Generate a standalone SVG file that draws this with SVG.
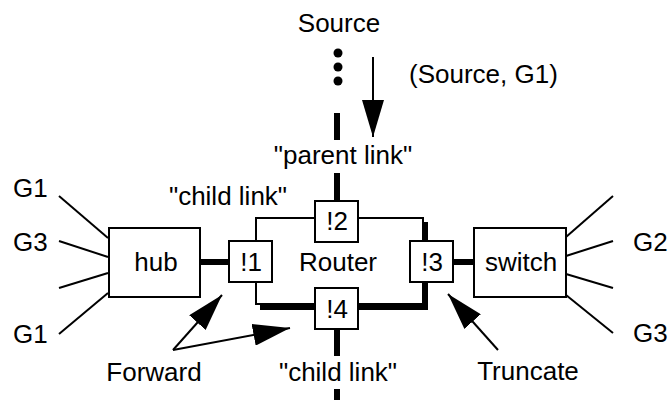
<svg xmlns="http://www.w3.org/2000/svg" width="669" height="400" viewBox="0 0 669 400">
<defs>
<style>
text{font-family:"Liberation Sans",Arial,sans-serif;font-size:26px;fill:#000}
.mid{text-anchor:middle}
.box{fill:#fff;stroke:#000;stroke-width:2}
.thin{stroke:#000;stroke-width:2;fill:none}
.thick{stroke:#000;stroke-width:6;fill:none}
.arr{stroke:#000;stroke-width:2;fill:none}
</style>
<marker id="ahL" viewBox="0 0 37 22" refX="37" refY="11" markerWidth="37" markerHeight="22" markerUnits="userSpaceOnUse" orient="auto">
<path d="M0,0 L37,11 L0,22 Z" fill="#000"/>
</marker>
</defs>
<rect width="669" height="400" fill="#fff"/>
<g id="connectors">
<circle cx="338" cy="53" r="4.5" fill="#000"/>
<circle cx="338" cy="67" r="4.5" fill="#000"/>
<circle cx="338" cy="81" r="4.5" fill="#000"/>
<line class="thick" x1="337" y1="113" x2="337" y2="140"/>
<line class="thick" x1="337" y1="173" x2="337" y2="201"/>
<line class="thick" x1="337" y1="328" x2="337" y2="356"/>
<line class="thick" x1="337" y1="389" x2="337" y2="400"/>
<line class="arr" x1="373" y1="57" x2="373" y2="137" marker-end="url(#ahL)"/>
<rect class="thin" x="256" y="218" width="167" height="86"/>
<polyline class="thick" points="425,222 425,307 260,307"/>
<line class="thick" x1="200" y1="262" x2="229" y2="262"/>
<line class="thick" x1="453" y1="262" x2="474" y2="262"/>
<line class="thin" x1="59" y1="196" x2="108" y2="238"/>
<line class="thin" x1="59" y1="241" x2="108" y2="257"/>
<line class="thin" x1="59" y1="288" x2="108" y2="273"/>
<line class="thin" x1="59" y1="334" x2="108" y2="293"/>
<line class="thin" x1="566" y1="237" x2="613" y2="196"/>
<line class="thin" x1="566" y1="256" x2="613" y2="241"/>
<line class="thin" x1="566" y1="274" x2="613" y2="288"/>
<line class="thin" x1="566" y1="295" x2="613" y2="333"/>
<line class="arr" x1="173" y1="350" x2="222" y2="295" marker-end="url(#ahL)"/>
<line class="arr" x1="173" y1="350" x2="290" y2="328" marker-end="url(#ahL)"/>
<line class="arr" x1="498" y1="350" x2="448" y2="294" marker-end="url(#ahL)"/>
</g>
<g id="hub">
<rect class="box" x="109" y="228" width="91" height="69"/>
<text class="mid" x="156" y="271">hub</text>
</g>
<g id="switch">
<rect class="box" x="474" y="228" width="92" height="69"/>
<text class="mid" x="521" y="271">switch</text>
</g>
<g id="router">
<text class="mid" x="338" y="271">Router</text>
</g>
<g id="port1">
<rect class="box" x="229" y="241" width="43" height="41"/>
<text class="mid" x="251" y="271">!1</text>
</g>
<g id="port2">
<rect class="box" x="315" y="201" width="43" height="41"/>
<text class="mid" x="337" y="230">!2</text>
</g>
<g id="port3">
<rect class="box" x="410" y="241" width="43" height="41"/>
<text class="mid" x="432" y="271">!3</text>
</g>
<g id="port4">
<rect class="box" x="315" y="288" width="43" height="41"/>
<text class="mid" x="337" y="318">!4</text>
</g>
<g id="labels">
<text class="mid" x="339" y="32">Source</text>
<text x="409" y="83">(Source, G1)</text>
<text class="mid" x="343" y="164">"parent link"</text>
<text class="mid" x="228" y="205">"child link"</text>
<text class="mid" x="338" y="381">"child link"</text>
<text x="13" y="197">G1</text>
<text x="13" y="251">G3</text>
<text x="13" y="343">G1</text>
<text x="633" y="251">G2</text>
<text x="633" y="342">G3</text>
<text class="mid" x="154" y="381">Forward</text>
<text class="mid" x="528" y="380">Truncate</text>
</g>
</svg>
